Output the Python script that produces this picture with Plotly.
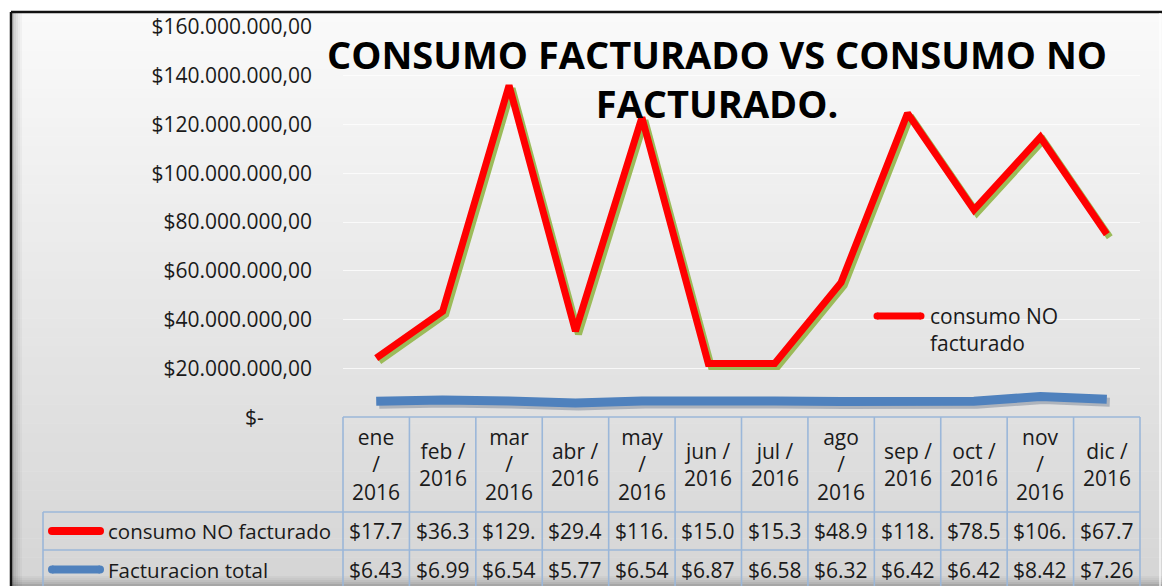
import plotly.graph_objects as go

# ---------------- data ----------------
months = ["ene / 2016", "feb / 2016", "mar / 2016", "abr / 2016", "may / 2016", "jun / 2016",
          "jul / 2016", "ago / 2016", "sep / 2016", "oct / 2016", "nov / 2016", "dic / 2016"]
month_labels = ["ene<br>/<br>2016", "feb /<br>2016", "mar<br>/<br>2016", "abr /<br>2016",
                "may<br>/<br>2016", "jun /<br>2016", "jul /<br>2016", "ago<br>/<br>2016",
                "sep /<br>2016", "oct /<br>2016", "nov<br>/<br>2016", "dic /<br>2016"]
consumo_no_facturado = [17_740_000, 36_320_000, 129_480_000, 29_430_000, 116_350_000, 15_040_000,
                        15_330_000, 48_920_000, 118_210_000, 78_540_000, 106_380_000, 67_730_000]
facturacion_total = [6_430_000, 6_990_000, 6_540_000, 5_770_000, 6_540_000, 6_870_000,
                     6_580_000, 6_320_000, 6_420_000, 6_420_000, 8_420_000, 7_260_000]
series_names = ["consumo NO facturado", "Facturacion total"]
y_ticks = [20_000_000, 40_000_000, 60_000_000, 80_000_000, 100_000_000,
           120_000_000, 140_000_000, 160_000_000]
title_text = "CONSUMO FACTURADO VS CONSUMO NO<br>FACTURADO."

# ---------------- geometry ----------------
W, H = 1162, 586
L, T, PW, PH = 343, 27, 797, 390
YMAX = 160_000_000
FONT = "Open Sans"
TXT = "#1a1a1a"
RED = "#FF0000"
BLUE = "#4F81BD"
GRID_BLUE = "#9BB7D9"


def xp(px):
    return (px - L) / PW


def yp(py):
    return (T + PH - py) / PH


def money(v):
    s = f"${v:,.2f}"
    return s.replace(",", "#").replace(".", ",").replace("#", ".")


def cell(v):
    return money(v)[:5]


n = len(months)
colw = PW / n
upx = YMAX / PH
sx, sy = 3, 3  # shadow offset in px

fig = go.Figure()

# shadows (base axes, shifted ranges)
fig.add_trace(go.Scatter(x=months, y=facturacion_total, stackgroup="sh", fill="none",
                         mode="lines", line=dict(color="rgba(40,60,95,0.28)", width=9),
                         xaxis="x", yaxis="y", showlegend=False, hoverinfo="skip"))
fig.add_trace(go.Scatter(x=months, y=consumo_no_facturado, stackgroup="sh", fill="none",
                         mode="lines", line=dict(color="#9BBB59", width=7),
                         xaxis="x", yaxis="y", showlegend=False, hoverinfo="skip"))
# main lines (stacked)
fig.add_trace(go.Scatter(x=months, y=facturacion_total, stackgroup="main", fill="none",
                         mode="lines", line=dict(color=BLUE, width=9), name=series_names[1],
                         xaxis="x2", yaxis="y2", showlegend=False))
fig.add_trace(go.Scatter(x=months, y=consumo_no_facturado, stackgroup="main", fill="none",
                         mode="lines", line=dict(color=RED, width=7), name=series_names[0],
                         xaxis="x2", yaxis="y2", showlegend=False))

shapes = []
# background gradient inside frame
fx0, fx1, fy0, fy1 = 11, 1162, 12, 586
N = 60
for k in range(N):
    a = fy0 + (fy1 - fy0) * k / N
    b = fy0 + (fy1 - fy0) * (k + 1) / N
    t = k / (N - 1)
    c = int(round(250 - 37 * t))
    shapes.append(dict(type="rect", xref="paper", yref="paper", x0=xp(fx0), x1=xp(fx1 + 2),
                       y0=yp(b + 0.5), y1=yp(a), fillcolor=f"rgb({c},{c},{c})",
                       line=dict(width=0), layer="below"))
# inner shadows left / bottom
for k, alpha in enumerate([0.22, 0.15, 0.10, 0.06, 0.03]):
    shapes.append(dict(type="rect", xref="paper", yref="paper", x0=xp(fx0 + 1 + 2 * k),
                       x1=xp(fx0 + 3 + 2 * k), y0=yp(fy1 + 2), y1=yp(fy0 + 1),
                       fillcolor=f"rgba(0,0,0,{alpha})", line=dict(width=0), layer="below"))
    shapes.append(dict(type="rect", xref="paper", yref="paper", x0=xp(fx0 + 1),
                       x1=xp(fx1 + 2), y0=yp(fy1 - 2 * k), y1=yp(fy1 - 2 - 2 * k),
                       fillcolor=f"rgba(0,0,0,{alpha})", line=dict(width=0), layer="below"))
# frame border (left/top black)
shapes.append(dict(type="line", xref="paper", yref="paper", x0=xp(fx0), x1=xp(fx0),
                   y0=yp(fy0), y1=yp(fy1 + 2), line=dict(color="#111", width=2.5)))
shapes.append(dict(type="line", xref="paper", yref="paper", x0=xp(fx0), x1=xp(fx1 + 2),
                   y0=yp(fy0), y1=yp(fy0), line=dict(color="#111", width=2.5)))
shapes.append(dict(type="line", xref="paper", yref="paper", x0=xp(1160), x1=xp(1160),
                   y0=yp(fy0 + 1), y1=yp(fy1 + 2), line=dict(color="rgba(255,255,255,0.8)", width=1.5)))

# data table
hdr_top, hdr_bot, r1_bot, r2_bot = 417, 512, 550, 589
left_col = 43
tl = dict(color=GRID_BLUE, width=1.6)
shapes.append(dict(type="line", xref="paper", yref="paper", x0=0, x1=1, y0=yp(hdr_top), y1=yp(hdr_top), line=tl))
for yy in (hdr_bot, r1_bot):
    shapes.append(dict(type="line", xref="paper", yref="paper", x0=xp(left_col), x1=1,
                       y0=yp(yy), y1=yp(yy), line=tl))
shapes.append(dict(type="line", xref="paper", yref="paper", x0=xp(left_col), x1=xp(left_col),
                   y0=yp(hdr_bot), y1=yp(r2_bot), line=tl))
for i in range(n + 1):
    shapes.append(dict(type="line", xref="x2 domain", yref="paper", x0=i / n, x1=i / n,
                       y0=yp(hdr_top), y1=yp(r2_bot), line=tl))
# legend keys in table (line with rounded ends)
for yy, col in (((hdr_bot + r1_bot) / 2, RED), ((r1_bot + r2_bot) / 2, BLUE)):
    shapes.append(dict(type="line", xref="paper", yref="paper", x0=xp(52), x1=xp(100),
                       y0=yp(yy), y1=yp(yy), line=dict(color=col, width=8)))
    for cx in (52, 100):
        shapes.append(dict(type="circle", xref="paper", yref="paper", x0=xp(cx - 4), x1=xp(cx + 4),
                           y0=yp(yy + 4), y1=yp(yy - 4), fillcolor=col, line=dict(width=0)))
# in-plot legend key
shapes.append(dict(type="line", xref="paper", yref="paper", x0=xp(877), x1=xp(921),
                   y0=yp(316), y1=yp(316), line=dict(color=RED, width=7)))
for cx in (877, 921):
    shapes.append(dict(type="circle", xref="paper", yref="paper", x0=xp(cx - 3.5), x1=xp(cx + 3.5),
                       y0=yp(316 + 3.5), y1=yp(316 - 3.5), fillcolor=RED, line=dict(width=0)))

annotations = []
f21 = dict(family=FONT, size=21, color=TXT)
f_row = dict(family=FONT, size=20.5, color=TXT)
for i, lab in enumerate(month_labels):
    annotations.append(dict(xref="x2", yref="paper", x=i, y=yp((hdr_top + hdr_bot) / 2),
                            text=lab, showarrow=False, font=f21, xanchor="center", yanchor="middle"))
    annotations.append(dict(xref="x2", yref="paper", x=i, y=yp((hdr_bot + r1_bot) / 2),
                            text=cell(consumo_no_facturado[i]), showarrow=False, font=f21,
                            xanchor="center", yanchor="middle"))
    annotations.append(dict(xref="x2", yref="paper", x=i, y=yp((r1_bot + r2_bot) / 2),
                            text=cell(facturacion_total[i]), showarrow=False, font=f21,
                            xanchor="center", yanchor="middle"))
annotations.append(dict(xref="paper", yref="paper", x=xp(106), y=yp((hdr_bot + r1_bot) / 2),
                        text=series_names[0], showarrow=False, font=f_row, xanchor="left", yanchor="middle"))
annotations.append(dict(xref="paper", yref="paper", x=xp(106), y=yp((r1_bot + r2_bot) / 2),
                        text=series_names[1], showarrow=False, font=f_row, xanchor="left", yanchor="middle"))
annotations.append(dict(xref="paper", yref="paper", x=xp(928), y=yp(329.5),
                        text="consumo NO<br>facturado", showarrow=False, font=f21,
                        xanchor="left", yanchor="middle", align="left"))
# zero tick label "$-"
annotations.append(dict(xref="paper", yref="y2", x=xp(266), y=0, text="$-", showarrow=False,
                        font=f21, xanchor="right", yanchor="middle"))
# title
annotations.append(dict(xref="paper", yref="paper", x=xp(717), y=yp(79),
                        text="<b>" + title_text + "</b>", showarrow=False,
                        font=dict(family=FONT, size=38, color="#000"),
                        xanchor="center", yanchor="middle", align="center"))

fig.update_layout(
    width=W, height=H,
    margin=dict(l=L, r=W - L - PW, t=T, b=H - T - PH, pad=0),
    paper_bgcolor="white", plot_bgcolor="rgba(0,0,0,0)",
    showlegend=False, hovermode=False,
    xaxis=dict(type="category", range=[-0.5 - sx / colw, n - 0.5 - sx / colw], visible=False,
               categoryorder="array", categoryarray=months),
    yaxis=dict(range=[sy * upx, YMAX + sy * upx], visible=False),
    xaxis2=dict(type="category", overlaying="x", anchor="y2", range=[-0.5, n - 0.5],
                visible=False, categoryorder="array", categoryarray=months),
    yaxis2=dict(overlaying="y", anchor="x2", side="left", range=[0, YMAX],
                tickvals=y_ticks, ticktext=[money(v) for v in y_ticks],
                showgrid=True, gridcolor="rgba(255,255,255,0.75)", gridwidth=1,
                zeroline=False, showline=False, ticks="", ticklabelstandoff=30,
                tickfont=f21),
    shapes=shapes, annotations=annotations,
    font=dict(family=FONT, color=TXT),
)

fig.write_html("out.html", config={"displayModeBar": False},
               post_script="document.body.style.margin='0';document.body.style.overflow='hidden';")
